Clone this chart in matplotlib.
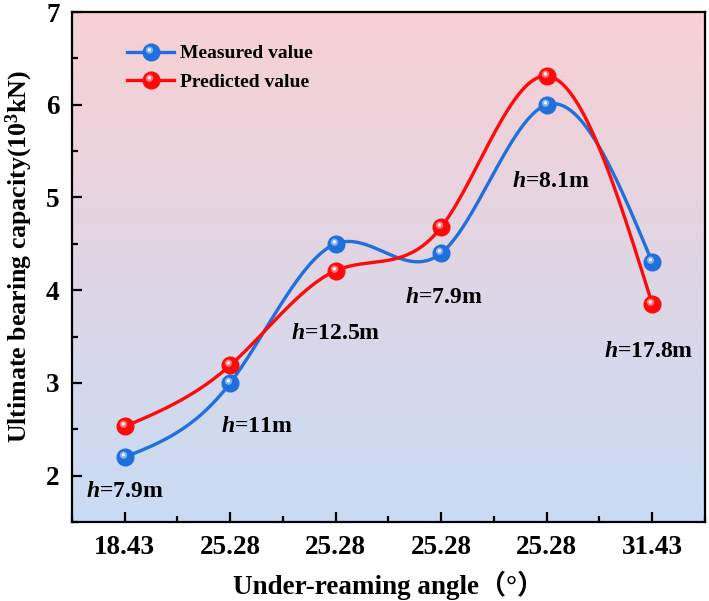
import numpy as np
import matplotlib
matplotlib.use("Agg")
import matplotlib.pyplot as plt
from matplotlib.path import Path
from matplotlib.ticker import MultipleLocator, FixedLocator, FixedFormatter
from matplotlib.legend_handler import HandlerTuple

plt.rcParams['font.family'] = ['Liberation Serif', 'Noto Sans CJK SC', 'DejaVu Sans']
plt.rcParams['font.weight'] = 'bold'
plt.rcParams['mathtext.fontset'] = 'custom'
plt.rcParams['mathtext.rm'] = 'Liberation Serif:bold'
plt.rcParams['mathtext.bf'] = 'Liberation Serif:bold'
plt.rcParams['mathtext.it'] = 'Liberation Serif:italic:bold'

# ---- data ----
angle_labels = ['18.43', '25.28', '25.28', '25.28', '25.28', '31.43']
measured = [2.2, 3.0, 4.5, 4.4, 6.0, 4.3]
predicted = [2.53, 3.19, 4.21, 4.68, 6.31, 3.85]
depth_labels = ['7.9', '11', '12.5', '7.9', '8.1', '17.8']

# annotation positions (layout)
label_x = [1.0, 2.25, 3.0, 4.02, 5.04, 5.97]
label_y = [1.83, 2.53, 3.53, 3.92, 5.17, 3.34]

BLUE = '#1f6fdc'
RED = '#ff0a0a'


def natural_spline(x, y, n=400):
    x = np.asarray(x, float)
    y = np.asarray(y, float)
    m = len(x)
    h = np.diff(x)
    A = np.zeros((m, m))
    b = np.zeros(m)
    A[0, 0] = 1
    A[-1, -1] = 1
    for i in range(1, m - 1):
        A[i, i - 1] = h[i - 1]
        A[i, i] = 2 * (h[i - 1] + h[i])
        A[i, i + 1] = h[i]
        b[i] = 6 * ((y[i + 1] - y[i]) / h[i] - (y[i] - y[i - 1]) / h[i - 1])
    M = np.linalg.solve(A, b)
    xs = np.linspace(x[0], x[-1], n)
    ys = np.empty_like(xs)
    for k, xv in enumerate(xs):
        i = min(np.searchsorted(x, xv, side='right') - 1, m - 2)
        t = xv - x[i]
        hi = h[i]
        a = (x[i + 1] - xv)
        ys[k] = (M[i] * a ** 3 / (6 * hi) + M[i + 1] * t ** 3 / (6 * hi)
                 + (y[i] / hi - M[i] * hi / 6) * a + (y[i + 1] / hi - M[i + 1] * hi / 6) * t)
    return xs, ys


def highlight_path(cx, cy, r):
    circ = Path.circle((cx, cy), r)
    verts = np.vstack([[[0.5, 0.5]], [[-0.5, -0.5]], circ.vertices])
    codes = np.concatenate([[Path.MOVETO, Path.MOVETO], circ.codes])
    return Path(verts, codes)


halo = highlight_path(-0.12, 0.14, 0.22)
core = highlight_path(-0.13, 0.16, 0.10)

fig = plt.figure(figsize=(7.09, 6.01), dpi=100)
ax = fig.add_axes([72 / 709, 1 - 522 / 601, (705 - 72) / 709, (522 - 12) / 601])

# gradient background
top = np.array([248, 208, 212]) / 255
bot = np.array([200, 220, 245]) / 255
t = np.linspace(0, 1, 256)[:, None]
grad = (top[None, :] * (1 - t) + bot[None, :] * t)[:, None, :]
ax.imshow(grad, extent=[0, 1, 0, 1], transform=ax.transAxes, aspect='auto', zorder=0)

x = np.arange(1, len(angle_labels) + 1)
ms = 12
handles = []
for vals, col, name in [(measured, BLUE, 'Measured value'), (predicted, RED, 'Predicted value')]:
    xs, ys = natural_spline(x, vals)
    ax.plot(xs, ys, color=col, lw=2.4, zorder=3, solid_capstyle='round')
    l1, = ax.plot(x, vals, ls='none', marker='o', ms=ms, color=col, mec=col, zorder=4)
    l2, = ax.plot(x, vals, ls='none', marker=halo, ms=ms, color='white', mec='none', alpha=0.45, zorder=5)
    l3, = ax.plot(x, vals, ls='none', marker=core, ms=ms, color='white', mec='none', alpha=0.9, zorder=6)
    ln = plt.Line2D([], [], color=col, lw=2.4)
    handles.append(((ln, l1, l2, l3), name))

for xv, yv, d in zip(label_x, label_y, depth_labels):
    ax.text(xv, yv, r'$\mathit{h}$=' + d + 'm', ha='center', va='center',
            fontsize=17, fontweight='bold', zorder=7)

ax.set_xlim(0.5, 6.5)
ax.set_ylim(1.5, 7)
ax.xaxis.set_major_locator(FixedLocator(x))
ax.xaxis.set_major_formatter(FixedFormatter(angle_labels))
ax.xaxis.set_minor_locator(MultipleLocator(0.5))
ax.yaxis.set_major_locator(MultipleLocator(1))
ax.yaxis.set_minor_locator(MultipleLocator(0.5))
ax.tick_params(which='both', direction='in', top=False, right=False, width=1.6)
ax.tick_params(which='major', length=7, labelsize=19.5, pad=9)
ax.tick_params(which='minor', length=4)
for s in ax.spines.values():
    s.set_linewidth(1.6)
    s.set_zorder(8)

ax.set_xlabel('Under-reaming angle（°）', fontsize=19.5, fontweight='bold', labelpad=8)
ax.set_ylabel(r'Ultimate bearing capacity(10$^{\mathrm{3}}$kN)', fontsize=18.6, fontweight='bold')
ax.yaxis.set_label_coords(-0.058, 0.52)

leg = ax.legend([h for h, _ in handles], [n for _, n in handles],
                handler_map={tuple: HandlerTuple(ndivide=1, pad=0)},
                loc='upper left', bbox_to_anchor=(0.06, 0.97), frameon=False,
                fontsize=14, handlelength=2.4, handletextpad=0.3, labelspacing=0.55)

fig.savefig('out.png', dpi=100)
